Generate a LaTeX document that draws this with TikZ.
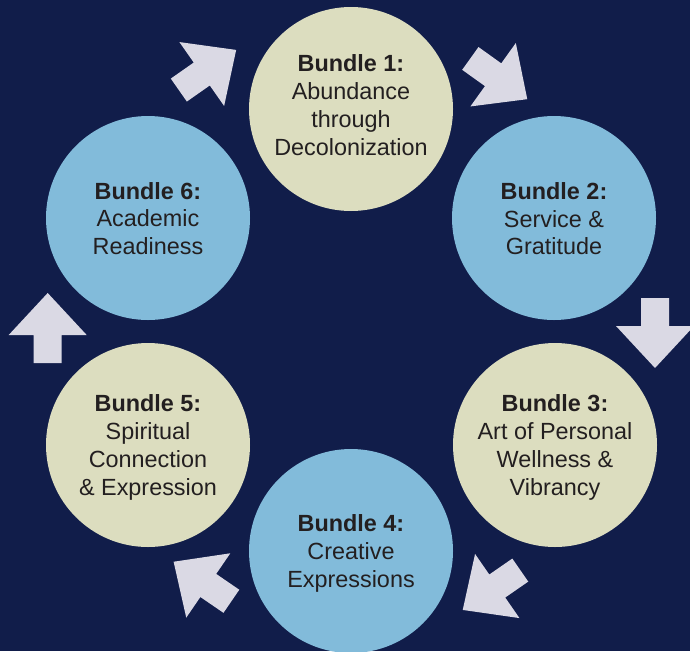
\documentclass[tikz,border=0pt]{standalone}
\usepackage{fontspec}
\setmainfont{Liberation Sans}
\definecolor{navyc}{HTML}{111D4A}
\definecolor{creamc}{HTML}{DCDDBF}
\definecolor{skyc}{HTML}{82BBDA}
\definecolor{arrowc}{HTML}{DAD9E4}
\definecolor{textc}{HTML}{231F20}
\newcommand\bundlelines[1]{\vtop{\baselineskip=27.8pt\halign{\hfil##\hfil\cr#1\crcr}}}
\tikzset{
  bundle/.style={circle, minimum size=204pt, inner sep=0pt, draw=none},
  cream/.style={bundle, fill=creamc},
  sky/.style={bundle, fill=skyc},
  btext/.style={anchor=base, text=textc, inner sep=0pt, font=\fontsize{23.4pt}{27.8pt}\selectfont},
  blockarrow/.pic={\fill[arrowc] (-35,-14) -- (-7,-14) -- (-7,-39) -- (35,0) -- (-7,39) -- (-7,14) -- (-35,14) -- cycle;}
}
\begin{document}
\begin{tikzpicture}[x=1pt,y=-1pt]
\fill[navyc] (0,0) rectangle (690,651);
\useasboundingbox (0,0) rectangle (690,651);
% circles
\node[cream] (b1) at (351,109) {};
\node[sky]   (b2) at (554,218) {};
\node[cream] (b3) at (555,445) {};
\node[sky]   (b4) at (351,551) {};
\node[cream] (b5) at (148,445) {};
\node[sky]   (b6) at (148,218) {};
% texts
\node[btext] (t1) at ([yshift=37.3pt]b1.center) {\bundlelines{\textbf{Bundle 1:}\cr Abundance\cr through\cr Decolonization}};
\node[btext] (t2) at ([yshift=18.7pt]b2.center) {\bundlelines{\textbf{Bundle 2:}\cr Service \&\cr Gratitude}};
\node[btext] (t3) at ([yshift=33.3pt]b3.center) {\bundlelines{\textbf{Bundle 3:}\cr Art of Personal\cr Wellness \&\cr Vibrancy}};
\node[btext] (t4) at ([yshift=19.3pt]b4.center) {\bundlelines{\textbf{Bundle 4:}\cr Creative\cr Expressions}};
\node[btext] (t5) at ([yshift=33.3pt]b5.center) {\bundlelines{\textbf{Bundle 5:}\cr Spiritual\cr Connection\cr \& Expression}};
\node[btext] (t6) at ([yshift=19pt]b6.center) {\bundlelines{\textbf{Bundle 6:}\cr Academic\cr Readiness}};
% block arrows
\pic[rotate=35]    at (207.5,70)  {blockarrow};
\pic[rotate=-35.6] at (498.8,78.8) {blockarrow};
\pic[rotate=-90]   at (655,333)   {blockarrow};
\pic[rotate=214.7] at (491.5,590) {blockarrow};
\pic[rotate=145.6] at (202.5,581.5) {blockarrow};
\pic[rotate=90]    at (47.7,328)  {blockarrow};
\end{tikzpicture}
\end{document}
